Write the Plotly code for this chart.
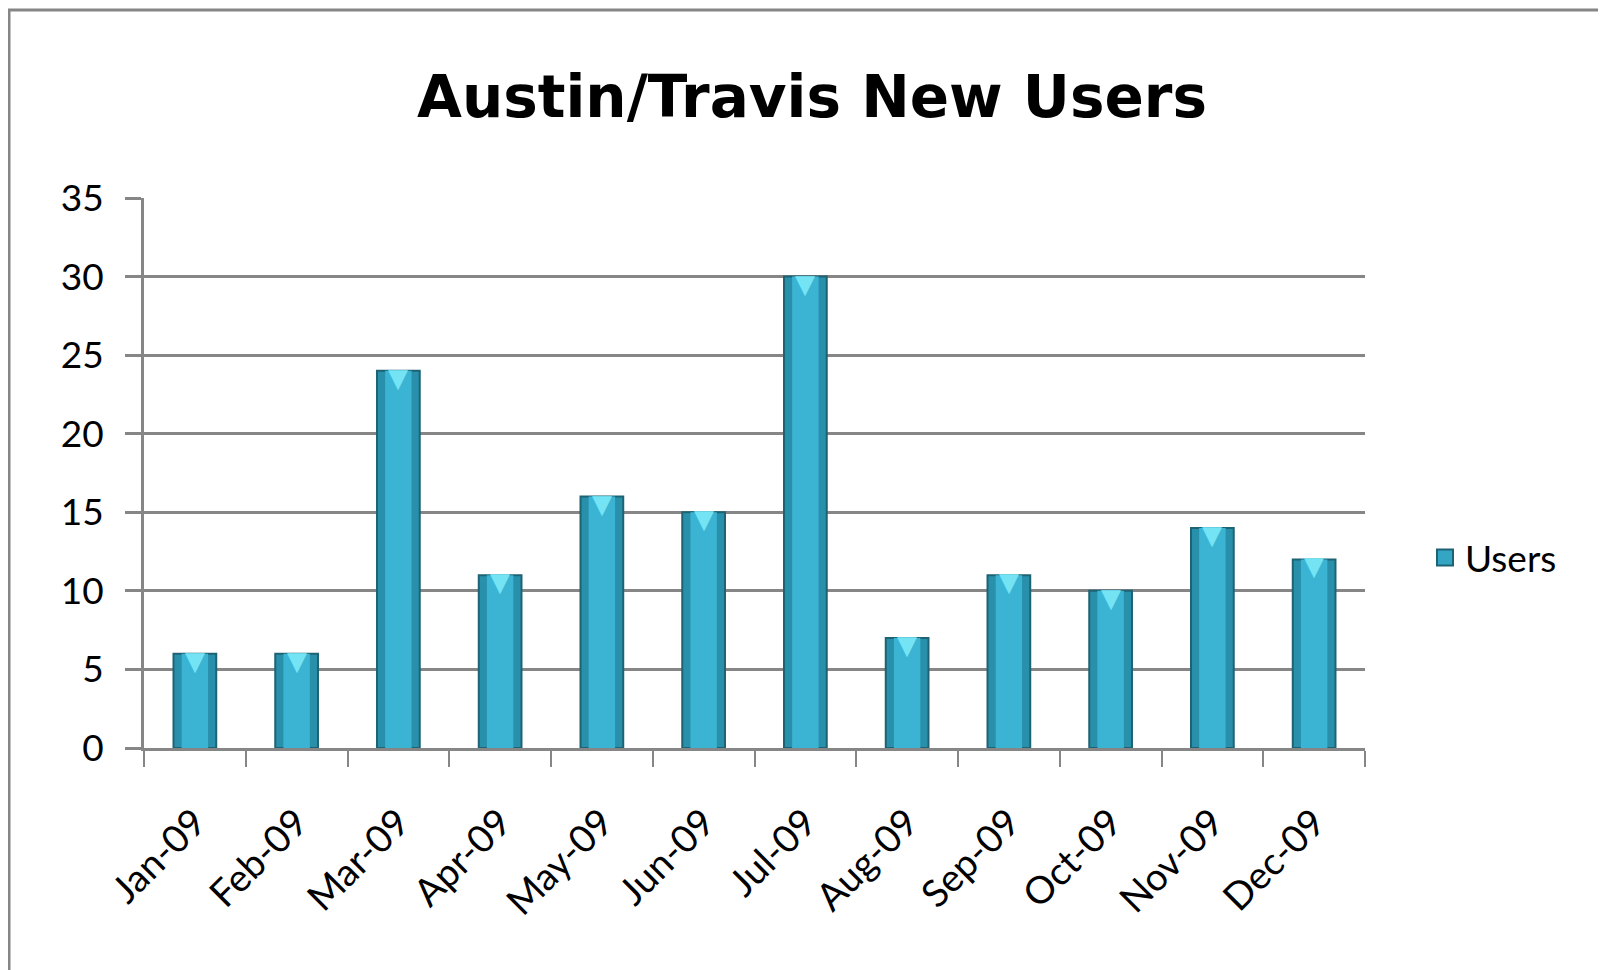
import plotly.graph_objects as go

months = ["Jan-09", "Feb-09", "Mar-09", "Apr-09", "May-09", "Jun-09",
          "Jul-09", "Aug-09", "Sep-09", "Oct-09", "Nov-09", "Dec-09"]
users = [6, 6, 24, 11, 16, 15, 30, 7, 11, 10, 14, 12]
y_ticks = [0, 5, 10, 15, 20, 25, 30, 35]

FONT = "Lato"
GRID = "#868686"

# page has an 8px body margin; plot area geometry in figure pixels
L, T, W, H = 136, 190, 1221, 550

fig = go.Figure()
fig.add_trace(go.Bar(
    x=months, y=users, name="Users", showlegend=False,
    marker=dict(color="#2990AB", line=dict(color="#1D6374", width=2)),
    width=0.42,
))
fig.add_trace(go.Bar(
    x=months, y=users, name="Users", showlegend=False, hoverinfo="skip",
    marker=dict(color="#3BB4D4", line=dict(width=0)),
    width=0.26,
))
# legend entry
fig.add_trace(go.Scatter(
    x=[None], y=[None], mode="markers", name="Users",
    marker=dict(symbol="square", size=24, color="#34A6C4",
                line=dict(color="#1D6374", width=2)),
))

annotations = [
    dict(x=m, y=v, xref="x", yref="y", text="▼", showarrow=False,
         yanchor="top", yshift=10,
         font=dict(family="DejaVu Sans", size=26, color="#74E3F4"))
    for m, v in zip(months, users)
]

fig.update_layout(
    width=1606, height=970,
    paper_bgcolor="white", plot_bgcolor="white",
    barmode="overlay",
    margin=dict(l=L, r=1606 - L - W, t=T, b=970 - T - H),
    title=dict(text="<b>Austin/Travis New Users</b>", x=804/1606, xanchor="center",
               y=1-89/970, yanchor="middle", yref="container",
               font=dict(family="DejaVu Sans", size=58, color="black")),
    font=dict(family=FONT, size=37, color="black"),
    showlegend=True,
    legend=dict(x=(1425-8-L)/W, y=(T+H-550)/H, xanchor="left", yanchor="middle",
                font=dict(family=FONT, size=37, color="black"),
                itemsizing="trace", bgcolor="rgba(0,0,0,0)"),
    annotations=annotations,
    shapes=[
        dict(type="line", xref="paper", yref="paper",
             x0=(0-L)/W, x1=(1606-L)/W,
             y0=(T+H-2)/H, y1=(T+H-2)/H,
             line=dict(color=GRID, width=3)),
        dict(type="line", xref="paper", yref="paper",
             x0=(1-L)/W, x1=(1-L)/W,
             y0=(T+H-2)/H, y1=(T+H-975)/H,
             line=dict(color=GRID, width=3)),
    ],
)

fig.update_xaxes(
    type="category", tickangle=-45,
    showline=True, linecolor=GRID, linewidth=3,
    ticks="outside", ticklen=16, tickcolor=GRID, tickwidth=2,
    tickson="boundaries", showgrid=False,
    ticklabelstandoff=34,
    tickfont=dict(family=FONT, size=38, color="black"),
)
fig.update_yaxes(
    range=[0, 35], tickvals=y_ticks,
    showline=True, linecolor=GRID, linewidth=3,
    ticks="outside", ticklen=16, tickcolor=GRID, tickwidth=3,
    showgrid=True, gridcolor=GRID, gridwidth=3,
    zeroline=False,
    ticklabelstandoff=14,
    tickfont=dict(family=FONT, size=37, color="black"),
)

fig.write_html("out.html")
